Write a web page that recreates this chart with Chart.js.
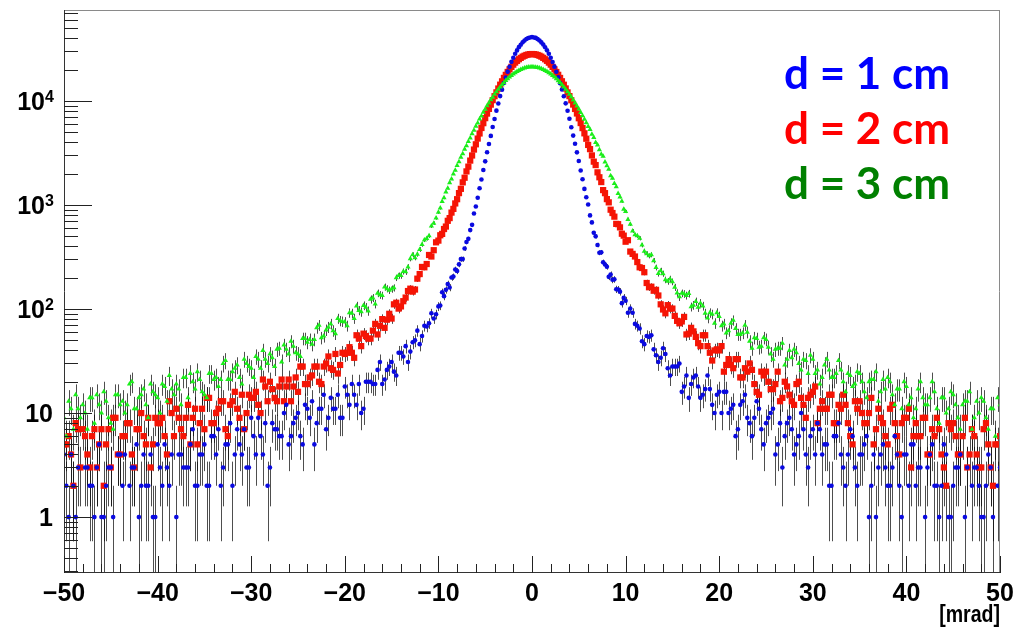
<!DOCTYPE html>
<html>
<head>
<meta charset="utf-8">
<script src="https://cdn.jsdelivr.net/npm/chart.js@4.4.0/dist/chart.umd.min.js"></script>
<style>
    html, body { margin: 0; padding: 0; background: #fff; }
    #wrap { width: 1029px; height: 631px; position: relative; }
</style>
</head>
<body>
<div id="wrap"><canvas id="myChart" width="1029" height="631"></canvas></div>
<script>
/* ========== Data =============== */

// bin centres [mrad]: two interleaved 0.5 mrad grids in the tails, 0.2 mrad in the core
const xLeft = [];
const xLeft2 = [];
const xCore = [];
const xRight = [];
const xRight2 = [];
for (let i = 0; i < 80; i++) {
    xLeft.push(-50 + i * 0.5);
    xLeft2.push(-49.75 + i * 0.5);
    xRight.push(10.5 + i * 0.5);
    xRight2.push(10.25 + i * 0.5);
}
for (let i = 0; i <= 100; i++) {
    xCore.push(Math.round((-10 + i * 0.2) * 10) / 10);
}

// d = 1 cm (counts per bin)
const blueLeft = [
    4, 1, 2, 3, 0, 3, 2, 3, 1, 2,
    3, 0, 4, 4, 2, 3, 1, 4, 2, 1,
    5, 2, 3, 4, 1, 4, 3, 5, 2, 4,
    5, 2, 6, 7, 3, 5, 2, 7, 4, 3,
    9, 4, 6, 8, 3, 7, 6, 10, 5, 8,
    10, 5, 11, 13, 8, 11, 7, 14, 11, 9,
    18, 12, 15, 19, 11, 20, 19, 26, 19, 26,
    31, 23, 38, 44, 39, 50, 46, 69, 73, 81
];
const blueLeft2 = [
    2, 4, 1, 0, 3, 2, 1, 5, 1, 3,
    1, 4, 2, 0, 3, 5, 2, 2, 4, 1,
    3, 5, 2, 0, 4, 3, 3, 7, 2, 4,
    2, 6, 4, 2, 5, 8, 4, 5, 7, 3,
    6, 9, 4, 2, 8, 7, 6, 12, 6, 9,
    6, 12, 9, 5, 11, 15, 9, 11, 15, 9,
    15, 19, 12, 10, 20, 20, 19, 31, 21, 28,
    25, 38, 35, 31, 48, 62, 55, 68, 91, 89
];
const blueCore = [
    106, 108, 145, 133, 153, 174, 161, 201, 205, 240,
    232, 269, 302, 302, 382, 441, 473, 574, 645, 829,
    969, 1175, 1450, 1760, 2170, 2630, 3220, 3860, 4620, 5630,
    6720, 8080, 9460, 11150, 12860, 14900, 16850, 19150, 21350, 23800,
    26050, 28500, 30650, 32950, 34800, 36650, 38100, 39450, 40400, 40850,
    41200,
    40800, 40450, 39400, 38150, 36600, 34850, 32900, 30700, 28450, 26100,
    23750, 21400, 19100, 16900, 14850, 12900, 11100, 9500, 8050, 6750,
    5600, 4650, 3880, 3210, 2650, 2150, 1770, 1430, 1190, 1012,
    795, 681, 541, 500, 413, 348, 351, 282, 268, 255,
    204, 215, 191, 193, 155, 154, 147, 114, 128, 120
];
const blueRight2 = [
    92, 92, 69, 49, 55, 56, 36, 34, 37, 23,
    28, 30, 18, 14, 22, 18, 15, 23, 12, 15,
    10, 16, 11, 6, 12, 15, 8, 9, 11, 5,
    9, 11, 5, 3, 8, 7, 5, 10, 4, 6,
    4, 7, 5, 2, 6, 8, 3, 4, 6, 2,
    4, 6, 2, 1, 4, 3, 2, 6, 2, 4,
    2, 5, 3, 0, 3, 5, 2, 2, 4, 1,
    3, 4, 1, 0, 3, 2, 1, 4, 1, 2
];
const blueRight = [
    101, 72, 65, 46, 54, 41, 31, 42, 27, 28,
    28, 16, 23, 19, 23, 14, 17, 17, 10, 16,
    16, 10, 12, 7, 13, 9, 6, 13, 7, 8,
    10, 4, 8, 6, 9, 4, 6, 7, 3, 7,
    8, 4, 5, 2, 6, 4, 2, 7, 3, 4,
    5, 1, 4, 3, 5, 2, 3, 4, 1, 4,
    5, 2, 3, 1, 4, 2, 1, 5, 1, 2,
    3, 0, 3, 2, 3, 1, 2, 3, 0, 3
];

// d = 2 cm
const redLeft = [
    5, 6, 2, 7, 7, 4, 6, 3, 7, 5,
    3, 9, 4, 6, 8, 3, 7, 6, 9, 5,
    8, 9, 4, 10, 11, 7, 9, 5, 11, 8,
    7, 14, 8, 11, 13, 6, 13, 11, 15, 10,
    14, 16, 10, 18, 20, 14, 18, 13, 21, 18,
    16, 28, 19, 23, 28, 19, 30, 27, 37, 29,
    37, 43, 34, 52, 58, 52, 62, 57, 80, 79,
    81, 115, 106, 129, 157, 154, 217, 252, 331, 368
];
const redLeft2 = [
    5, 4, 8, 3, 6, 3, 7, 5, 2, 7,
    9, 4, 6, 8, 4, 7, 10, 5, 3, 9,
    8, 6, 13, 6, 9, 6, 12, 9, 5, 11,
    14, 8, 10, 13, 7, 12, 16, 9, 7, 15,
    14, 12, 21, 13, 17, 13, 21, 18, 13, 22,
    28, 19, 22, 28, 20, 28, 35, 26, 24, 38,
    38, 38, 56, 44, 55, 52, 72, 69, 66, 90,
    111, 101, 119, 149, 147, 196, 254, 271, 320, 438
];
const redCore = [
    455, 512, 528, 588, 621, 705, 749, 846, 918, 1036,
    1138, 1302, 1431, 1652, 1830, 2105, 2340, 2675, 2995, 3415,
    3835, 4355, 4875, 5505, 6125, 6845, 7575, 8405, 9235, 10185,
    11130, 12115, 13190, 14360, 15460, 16690, 17840, 19040, 20150, 21300,
    22350, 23420, 24330, 25220, 25980, 26720, 27230, 27720, 28010, 28250,
    28300,
    28230, 28030, 27700, 27250, 26700, 26000, 25200, 24350, 23400, 22370,
    21280, 20170, 19020, 17860, 16670, 15480, 14340, 13210, 12100, 11150,
    10170, 9250, 8390, 7590, 6830, 6140, 5490, 4890, 4340, 3782,
    3446, 2999, 2613, 2422, 2062, 1849, 1663, 1392, 1301, 1140,
    1061, 902, 838, 773, 659, 655, 610, 530, 508, 444
];
const redRight2 = [
    459, 339, 283, 248, 178, 164, 153, 111, 91, 101,
    86, 73, 84, 58, 61, 47, 56, 44, 32, 41,
    44, 29, 29, 33, 22, 27, 30, 19, 15, 23,
    20, 17, 25, 14, 18, 13, 19, 14, 9, 15,
    18, 11, 11, 15, 8, 12, 15, 8, 5, 11,
    10, 8, 14, 7, 9, 6, 11, 8, 4, 9,
    11, 6, 6, 9, 4, 7, 9, 4, 2, 7,
    6, 4, 9, 4, 6, 3, 7, 5, 2, 5
];
const redRight = [
    357, 320, 252, 226, 162, 150, 135, 99, 109, 101,
    77, 76, 57, 66, 54, 44, 56, 38, 40, 40,
    25, 33, 27, 33, 22, 25, 26, 16, 25, 25,
    17, 19, 13, 20, 15, 12, 20, 12, 14, 16,
    8, 13, 11, 15, 8, 11, 12, 6, 13, 13,
    8, 10, 5, 11, 8, 5, 12, 6, 8, 9,
    3, 8, 6, 9, 4, 6, 7, 3, 8, 8,
    4, 6, 3, 7, 4, 3, 8, 3, 5, 6
];

// d = 3 cm
const greenLeft = [
    9, 13, 7, 11, 12, 7, 14, 15, 10, 13,
    8, 15, 12, 10, 19, 11, 14, 17, 9, 16,
    14, 19, 13, 17, 19, 12, 22, 24, 17, 21,
    15, 24, 21, 18, 30, 21, 25, 29, 19, 30,
    27, 35, 27, 33, 37, 28, 42, 45, 37, 44,
    37, 52, 48, 46, 66, 53, 63, 72, 58, 77,
    75, 92, 81, 97, 108, 96, 128, 142, 135, 157,
    156, 200, 210, 228, 305, 312, 374, 462, 506, 670
];
const greenLeft2 = [
    6, 11, 15, 9, 10, 14, 8, 12, 16, 9,
    7, 15, 13, 12, 20, 11, 15, 12, 19, 15,
    10, 18, 23, 15, 17, 22, 14, 20, 25, 16,
    14, 24, 22, 21, 32, 21, 27, 22, 33, 28,
    22, 33, 40, 30, 34, 41, 31, 41, 49, 38,
    35, 52, 51, 51, 70, 55, 67, 62, 81, 76,
    69, 91, 107, 94, 104, 124, 112, 137, 163, 152,
    160, 210, 230, 254, 333, 337, 418, 477, 627, 750
];
const greenCore = [
    852, 935, 1081, 1172, 1338, 1452, 1640, 1778, 1990, 2155,
    2405, 2602, 2880, 3112, 3445, 3712, 4090, 4418, 4850, 5222,
    5718, 6160, 6705, 7190, 7795, 8340, 8990, 9570, 10260, 10900,
    11620, 12260, 12990, 13640, 14370, 15010, 15720, 16340, 17020, 17600,
    18220, 18720, 19270, 19680, 20130, 20450, 20780, 20980, 21180, 21250,
    21300,
    21270, 21160, 21000, 20760, 20470, 20110, 19700, 19250, 18740, 18200,
    17620, 17000, 16360, 15700, 15030, 14350, 13660, 12970, 12280, 11600,
    10920, 10240, 9590, 8970, 8360, 7770, 7210, 6685, 6180, 5695,
    5326, 4802, 4455, 4000, 3779, 3408, 3080, 2938, 2589, 2392,
    2204, 1910, 1807, 1609, 1503, 1293, 1194, 1085, 911, 866
];
const greenRight2 = [
    728, 563, 506, 412, 341, 333, 251, 234, 191, 195,
    162, 131, 140, 141, 109, 104, 107, 82, 89, 92,
    69, 59, 73, 65, 57, 70, 49, 53, 43, 53,
    43, 33, 42, 47, 33, 34, 38, 26, 32, 36,
    24, 19, 29, 26, 22, 32, 20, 24, 18, 25,
    20, 14, 21, 25, 16, 17, 20, 12, 17, 20,
    12, 9, 17, 14, 12, 20, 11, 14, 10, 16,
    12, 7, 13, 16, 9, 10, 13, 7, 11, 14
];
const greenRight = [
    655, 518, 479, 360, 325, 292, 220, 219, 185, 183,
    143, 142, 135, 105, 118, 114, 91, 92, 73, 85,
    72, 62, 78, 57, 59, 60, 42, 52, 44, 51,
    37, 41, 42, 29, 40, 41, 30, 33, 24, 33,
    26, 22, 33, 22, 24, 26, 16, 23, 19, 24,
    16, 20, 21, 13, 21, 22, 15, 17, 11, 18,
    14, 11, 20, 12, 14, 16, 8, 14, 11, 15,
    9, 12, 13, 7, 13, 14, 9, 11, 6, 12
];

const seriesNames = ['d = 1 cm', 'd = 2 cm', 'd = 3 cm'];
const xTicks = [-50, -40, -30, -20, -10, 0, 10, 20, 30, 40, 50];
const yTickValues = [1, 10, 100, 1000, 10000];
const yTickLabels = ['1', '10', '10^2', '10^3', '10^4'];
const xTitle = '[mrad]';

/* ========== Helpers =============== */

function points(xs, ys) {
    var out = [];
    for (var i = 0; i < ys.length; i++) {
        if (ys[i] > 0) out.push({ x: xs[i], y: ys[i] });
    }
    return out;
}

function histPoints(l, l2, c, r2, r) {
    return points(xLeft, l).concat(points(xLeft2, l2), points(xCore, c), points(xRight2, r2), points(xRight, r));
}

const bluePts = histPoints(blueLeft, blueLeft2, blueCore, blueRight2, blueRight);
const redPts = histPoints(redLeft, redLeft2, redCore, redRight2, redRight);
const greenPts = histPoints(greenLeft, greenLeft2, greenCore, greenRight2, greenRight);

const FONT = "'Liberation Sans', Arial, Helvetica, sans-serif";

/* ========== ROOT-like frame, error bars and labels =============== */

const rootAxes = {
    id: 'rootAxes',
    beforeDatasetsDraw(chart) {
        const ctx = chart.ctx;
        const area = chart.chartArea;
        const xs = chart.scales.x;
        const ys = chart.scales.y;
        ctx.save();
        ctx.beginPath();
        ctx.rect(area.left, area.top, area.right - area.left, area.bottom - area.top);
        ctx.clip();
        ctx.lineWidth = 1;
        ctx.strokeStyle = 'rgba(10,10,10,0.72)';
        chart.data.datasets.forEach(function (ds) {
            ctx.beginPath();
            ds.data.forEach(function (p) {
                const err = Math.sqrt(p.y);
                const px = Math.round(xs.getPixelForValue(p.x)) + 0.5;
                const hi = ys.getPixelForValue(p.y + err);
                const lo = (p.y - err) > 0 ? ys.getPixelForValue(p.y - err) : area.bottom;
                ctx.moveTo(px, Math.min(lo, area.bottom));
                ctx.lineTo(px, Math.max(hi, area.top));
            });
            ctx.stroke();
        });
        ctx.restore();
    },
    afterDatasetsDraw(chart) {
        const ctx = chart.ctx;
        const a = chart.chartArea;
        const xs = chart.scales.x;
        const ys = chart.scales.y;
        ctx.save();

        // frame
        ctx.lineWidth = 1;
        ctx.strokeStyle = '#8a8a8a';
        ctx.beginPath();
        ctx.moveTo(a.left, a.top + 0.5);
        ctx.lineTo(a.right, a.top + 0.5);
        ctx.moveTo(a.right - 0.5, a.top);
        ctx.lineTo(a.right - 0.5, a.bottom);
        ctx.stroke();
        ctx.strokeStyle = '#333';
        ctx.beginPath();
        ctx.moveTo(a.left + 0.5, a.top);
        ctx.lineTo(a.left + 0.5, a.bottom);
        ctx.moveTo(a.left, a.bottom - 0.5);
        ctx.lineTo(a.right, a.bottom - 0.5);
        ctx.stroke();

        // y ticks (log)
        ctx.strokeStyle = '#222';
        ctx.beginPath();
        for (var d = 0.1; d <= 10000; d *= 10) {
            for (var m = 1; m <= 9; m++) {
                var v = m * d;
                if (v < ys.min || v > ys.max) continue;
                var py = Math.round(ys.getPixelForValue(v)) + 0.5;
                var len = (m === 1) ? 28 : 14;
                ctx.moveTo(a.left, py);
                ctx.lineTo(a.left + len, py);
            }
        }
        // x ticks
        for (var t = -50; t <= 50; t += 2) {
            var px = Math.round(xs.getPixelForValue(t)) + 0.5;
            var l = (t % 10 === 0) ? 17 : 9;
            ctx.moveTo(px, a.bottom);
            ctx.lineTo(px, a.bottom - l);
        }
        ctx.stroke();

        // y tick labels
        ctx.fillStyle = '#000';
        for (var i = 0; i < yTickValues.length; i++) {
            var yy = ys.getPixelForValue(yTickValues[i]);
            var parts = yTickLabels[i].split('^');
            ctx.font = 'bold 25px ' + FONT;
            ctx.textBaseline = 'alphabetic';
            if (parts.length === 1) {
                ctx.textAlign = 'right';
                ctx.fillText(parts[0], 53, yy + 9);
            } else {
                ctx.textAlign = 'right';
                ctx.fillText(parts[0], 45, yy + 9);
                ctx.font = 'bold 16px ' + FONT;
                ctx.textAlign = 'left';
                ctx.fillText(parts[1], 45, yy + 1);
            }
        }

        // axis title (slightly condensed like the ROOT font)
        ctx.save();
        ctx.font = 'bold 23px ' + FONT;
        ctx.textAlign = 'right';
        ctx.translate(a.right, 622);
        ctx.scale(0.85, 1);
        ctx.fillText(xTitle, 0, 0);
        ctx.restore();

        // legend text
        const colors = ['#0000ff', '#ff0000', '#008000'];
        ctx.font = "bold 44px Lato, 'Open Sans', sans-serif";
        ctx.textAlign = 'left';
        for (var k = 0; k < seriesNames.length; k++) {
            ctx.fillStyle = colors[k];
            ctx.fillText(seriesNames[k], 784, 89 + k * 55);
        }
        ctx.restore();
    }
};

/* ========== Chart =============== */

const ctxHist = document.getElementById('myChart');

new Chart(ctxHist, {
    type: 'scatter',
    data: {
        datasets: [{
            label: seriesNames[0],
            data: bluePts,
            pointStyle: 'circle',
            pointRadius: 2.3,
            backgroundColor: '#0a0ae0',
            borderWidth: 0,
            order: 1
        }, {
            label: seriesNames[1],
            data: redPts,
            pointStyle: 'rect',
            pointRadius: 4.4,
            backgroundColor: '#f51405',
            borderWidth: 0,
            order: 2
        }, {
            label: seriesNames[2],
            data: greenPts,
            pointStyle: 'triangle',
            pointRadius: 3,
            backgroundColor: '#1aee1a',
            borderWidth: 0,
            order: 0
        }]
    },
    options: {
        responsive: false,
        animation: false,
        devicePixelRatio: 1,
        events: [],
        layout: {
            padding: { top: 10, right: 29, left: 0, bottom: 0 }
        },
        plugins: {
            legend: { display: false },
            tooltip: { enabled: false }
        },
        scales: {
            x: {
                type: 'linear',
                min: -50,
                max: 50,
                grid: { display: false, drawTicks: false },
                border: { display: false },
                afterBuildTicks: function (scale) {
                    scale.ticks = xTicks.map(function (v) { return { value: v }; });
                },
                afterFit: function (scale) { scale.height = 58; },
                ticks: {
                    padding: 6,
                    maxRotation: 0,
                    autoSkip: false,
                    color: '#000',
                    font: { family: FONT, size: 25, weight: 'bold' },
                    callback: function (v) { return v < 0 ? '\u2212' + Math.abs(v) : String(v); }
                }
            },
            y: {
                type: 'logarithmic',
                min: 0.29,
                max: 75000,
                grid: { display: false, drawTicks: false },
                border: { display: false },
                afterFit: function (scale) { scale.width = 64; },
                ticks: { display: false }
            }
        }
    },
    plugins: [rootAxes]
});
</script>
</body>
</html>
